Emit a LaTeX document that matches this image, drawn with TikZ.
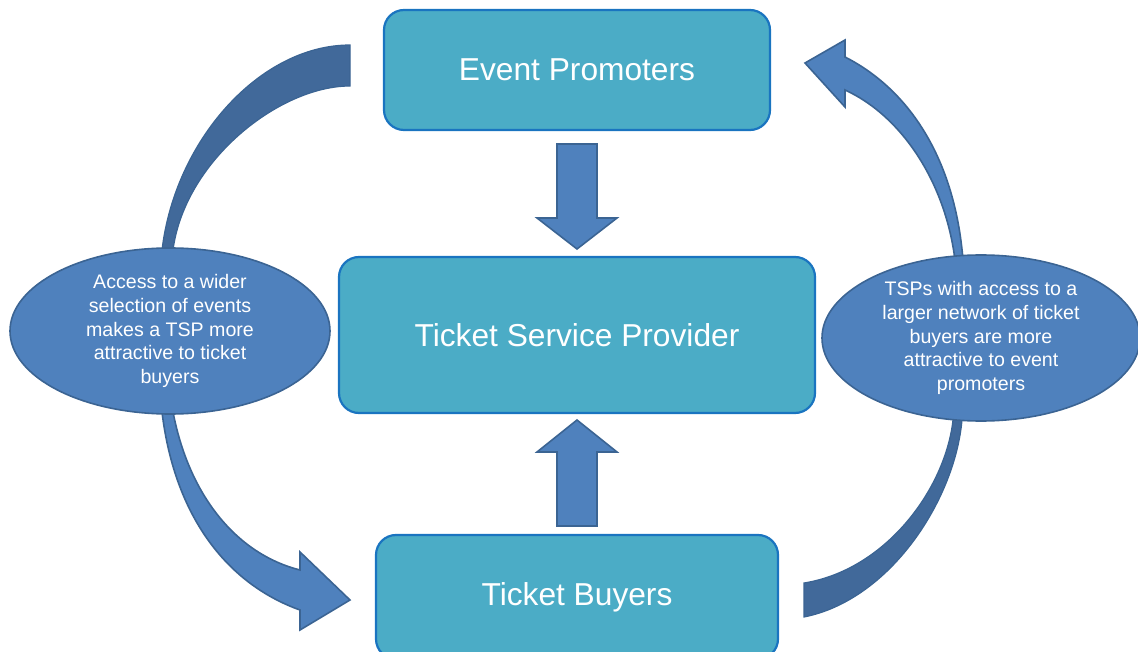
\documentclass[tikz,border=0pt]{standalone}
\usepackage{fontspec}
\setmainfont{Liberation Sans}
\usetikzlibrary{shapes.geometric}
\definecolor{boxfill}{HTML}{4BACC6}
\definecolor{boxline}{HTML}{1A74C0}
\definecolor{ellfill}{HTML}{4F81BD}
\definecolor{ellline}{HTML}{3B6493}
\definecolor{bandback}{HTML}{41699A}
\tikzset{
  party/.style={draw=boxline, line width=2.2pt, fill=boxfill, rounded corners=20pt,
    text=white, font=\fontsize{31.7}{38}\selectfont, inner sep=0pt},
  note/.style={ellipse, draw=ellline, line width=1.6pt, fill=ellfill, text=white,
    inner sep=0pt, align=center, font=\fontsize{19.6}{23.8}\selectfont},
  blockarrow/.style={draw=ellline, line width=1.6pt, fill=ellfill, line join=miter},
  backband/.style={draw=ellline, line width=1.2pt, fill=bandback},
}
\begin{document}
\begin{tikzpicture}[x=1pt,y=-1pt]
\useasboundingbox (0,0) rectangle (1138,652);
\clip (0,0) rectangle (1138,652);

% curved bands behind the ellipses
% left: from Event Promoters down to the left ellipse (back side)
\path[backband] (350,45) .. controls (260,45) and (175,140) .. (162,250)
  -- (160,290) -- (172,290) -- (173,250)
  .. controls (185,160) and (280,86) .. (350,86) -- cycle;
% left: from the left ellipse to Ticket Buyers, with head
\path[blockarrow] (160,390) -- (162,412) .. controls (175,520) and (230,585) .. (300,610)
  -- (300,630) -- (350,600) -- (300,552) -- (300,570)
  .. controls (240,555) and (190,500) .. (173,412) -- (172,390) -- cycle;
% right: from Ticket Buyers up to the right ellipse (back side)
\path[backband] (804,617) .. controls (890,600) and (955,500) .. (962,420)
  -- (964,395) -- (952,395) -- (953,420)
  .. controls (945,490) and (885,570) .. (804,583) -- cycle;
% right: from the right ellipse to Event Promoters, with head
\path[blockarrow] (965,285) -- (963,260) .. controls (955,160) and (910,90) .. (845,57)
  -- (845,40) -- (805,63) -- (845,107) -- (845,90)
  .. controls (900,115) and (945,180) .. (955,260) -- (957,285) -- cycle;

% the three parties
\node[party, minimum width=386pt, minimum height=120pt] (ep) at (577,70) {Event Promoters};
\node[party, minimum width=476pt, minimum height=156pt] (tsp) at (577,335) {Ticket Service Provider};
\node[party, minimum width=402pt, minimum height=124pt] (tb) at (577,597) {Ticket Buyers};

% straight block arrows into the provider
\path[blockarrow] (557,144) -- (597,144) -- (597,218) -- (617,218) -- (577,249)
  -- (537,218) -- (557,218) -- cycle;
\path[blockarrow] (557,526) -- (597,526) -- (597,452) -- (617,452) -- (577,420)
  -- (537,452) -- (557,452) -- cycle;

% explanatory ellipses
\node[note, minimum width=320pt, minimum height=166pt] (left) at (170,331)
  {Access to a wider\\selection of events\\makes a TSP more\\attractive to ticket\\buyers};
\node[note, minimum width=318pt, minimum height=166pt] (right) at (981,338)
  {TSPs with access to a\\larger network of ticket\\buyers are more\\attractive to event\\promoters};
\end{tikzpicture}
\end{document}
